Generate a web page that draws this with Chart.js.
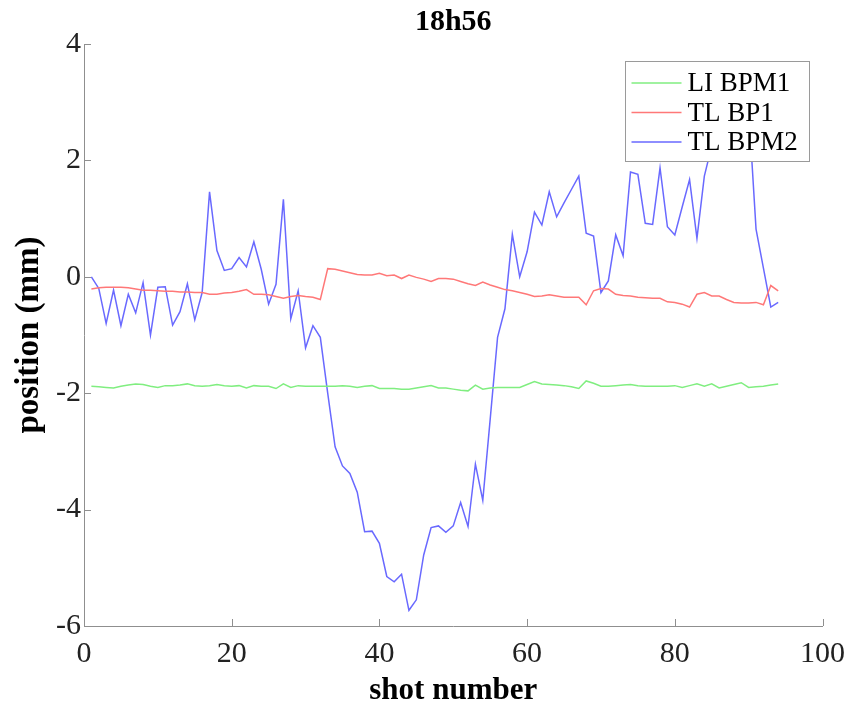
<!DOCTYPE html>
<html>
<head>
<meta charset="utf-8">
<script src="https://cdn.jsdelivr.net/npm/chart.js@4/dist/chart.umd.min.js"></script>
<style>
  html, body { margin: 0; padding: 0; background: #fff; }
  #wrap { width: 855px; height: 707px; }
</style>
</head>
<body>
<div id="wrap"><canvas id="chart" width="855" height="707"></canvas></div>
<script>
const shots = [1,2,3,4,5,6,7,8,9,10,11,12,13,14,15,16,17,18,19,20,21,22,23,24,25,26,27,28,29,30,
  31,32,33,34,35,36,37,38,39,40,41,42,43,44,45,46,47,48,49,50,51,52,53,54,55,56,57,58,59,60,
  61,62,63,64,65,66,67,68,69,70,71,72,73,74,75,76,77,78,79,80,81,82,83,84,85,86,87,88,89,90,
  91,92,93,94];

const liBpm1 = [-1.88,-1.89,-1.90,-1.91,-1.88,-1.86,-1.84,-1.85,-1.88,-1.90,
  -1.87,-1.87,-1.86,-1.84,-1.87,-1.88,-1.87,-1.85,-1.87,-1.88,
  -1.87,-1.91,-1.87,-1.88,-1.88,-1.92,-1.84,-1.90,-1.87,-1.88,
  -1.88,-1.88,-1.88,-1.88,-1.87,-1.88,-1.90,-1.88,-1.87,-1.92,
  -1.92,-1.92,-1.93,-1.93,-1.91,-1.89,-1.87,-1.91,-1.91,-1.93,
  -1.95,-1.96,-1.86,-1.93,-1.91,-1.90,-1.90,-1.90,-1.90,-1.85,
  -1.80,-1.84,-1.85,-1.86,-1.87,-1.89,-1.92,-1.79,-1.83,-1.88,
  -1.88,-1.87,-1.86,-1.85,-1.87,-1.88,-1.88,-1.88,-1.88,-1.87,
  -1.90,-1.87,-1.84,-1.88,-1.84,-1.91,-1.88,-1.85,-1.82,-1.90,
  -1.89,-1.88,-1.86,-1.84];

const tlBp1 = [-0.21,-0.19,-0.18,-0.18,-0.18,-0.19,-0.21,-0.23,-0.23,-0.24,
  -0.25,-0.25,-0.26,-0.26,-0.27,-0.27,-0.30,-0.30,-0.28,-0.27,
  -0.25,-0.22,-0.30,-0.30,-0.31,-0.34,-0.37,-0.34,-0.32,-0.34,
  -0.35,-0.39,0.14,0.13,0.10,0.07,0.04,0.03,0.03,0.06,
  0.02,0.03,-0.03,0.03,-0.01,-0.04,-0.08,-0.03,-0.03,-0.04,
  -0.08,-0.12,-0.15,-0.09,-0.14,-0.18,-0.22,-0.24,-0.27,-0.30,
  -0.34,-0.33,-0.31,-0.33,-0.35,-0.35,-0.35,-0.48,-0.24,-0.20,
  -0.21,-0.30,-0.32,-0.33,-0.35,-0.36,-0.37,-0.37,-0.43,-0.44,
  -0.47,-0.52,-0.30,-0.27,-0.33,-0.33,-0.39,-0.44,-0.45,-0.45,
  -0.44,-0.48,-0.15,-0.24];

const tlBpm2 = [0.00,-0.20,-0.80,-0.23,-0.84,-0.30,-0.62,-0.10,-1.00,-0.18,
  -0.17,-0.83,-0.60,-0.12,-0.74,-0.27,1.46,0.45,0.11,0.14,
  0.33,0.17,0.60,0.13,-0.47,-0.13,1.33,-0.72,-0.24,-1.22,
  -0.84,-1.04,-2.00,-2.92,-3.25,-3.38,-3.70,-4.38,-4.37,-4.58,
  -5.15,-5.24,-5.11,-5.73,-5.55,-4.78,-4.31,-4.28,-4.39,-4.28,
  -3.88,-4.29,-3.22,-3.84,-2.45,-1.04,-0.55,0.73,0.00,0.43,
  1.11,0.89,1.46,1.03,1.27,1.50,1.73,0.75,0.70,-0.27,
  -0.07,0.72,0.36,1.80,1.76,0.92,0.90,1.87,0.86,0.72,
  1.20,1.67,0.66,1.73,2.25,2.60,2.40,2.80,2.50,2.90,
  0.82,0.15,-0.52,-0.44];

const xTickValues = [0, 20, 40, 60, 80, 100];
const yTickValues = [-6, -4, -2, 0, 2, 4];
const chartTitle = '18h56';

const SERIF = "'Liberation Serif', 'Times New Roman', serif";
const AXIS = '#8f8f8f';

const pts = ys => shots.map((x, i) => ({ x, y: ys[i] }));

// MATLAB style ticks pointing into the plot
const innerTicks = {
  id: 'innerTicks',
  afterDatasetsDraw(chart) {
    const { ctx, chartArea: a, scales: { x, y } } = chart;
    ctx.save();
    ctx.strokeStyle = AXIS;
    ctx.lineWidth = 1;
    ctx.beginPath();
    xTickValues.forEach(v => {
      const px = Math.round(x.getPixelForValue(v)) + 0.5;
      ctx.moveTo(px, a.bottom); ctx.lineTo(px, a.bottom - 7);
    });
    yTickValues.forEach(v => {
      const py = Math.round(y.getPixelForValue(v)) + 0.5;
      ctx.moveTo(a.left, py); ctx.lineTo(a.left + 7, py);
    });
    ctx.stroke();
    ctx.restore();
  }
};

// legend box inside the axes, drawn over the lines
const boxLegend = {
  id: 'boxLegend',
  afterDatasetsDraw(chart) {
    const { ctx, chartArea: a } = chart;
    const w = 184, h = 100;
    const bx = a.right - 14 - w, by = a.top + 17;
    ctx.save();
    ctx.fillStyle = '#fff';
    ctx.fillRect(bx, by, w, h);
    ctx.strokeStyle = '#9a9a9a';
    ctx.lineWidth = 1;
    ctx.strokeRect(Math.round(bx) + 0.5, Math.round(by) + 0.5, w, h);
    ctx.font = '27px ' + SERIF;
    ctx.textBaseline = 'middle';
    ctx.fillStyle = '#000';
    chart.data.datasets.forEach((ds, i) => {
      const cy = by + 22 + i * 29.5;
      ctx.strokeStyle = ds.borderColor;
      ctx.lineWidth = 1.5;
      ctx.beginPath();
      ctx.moveTo(bx + 7, cy); ctx.lineTo(bx + 57, cy);
      ctx.stroke();
      ctx.fillText(ds.label, bx + 63, cy + 1);
    });
    ctx.restore();
  }
};

// title centred over the axes, like MATLAB
const axesTitle = {
  id: 'axesTitle',
  afterDraw(chart) {
    const { ctx, chartArea: a } = chart;
    ctx.save();
    ctx.font = 'bold 30px ' + SERIF;
    ctx.fillStyle = '#000';
    ctx.textAlign = 'center';
    ctx.textBaseline = 'middle';
    ctx.fillText(chartTitle, (a.left + a.right) / 2, 22);
    ctx.restore();
  }
};

new Chart(document.getElementById('chart'), {
  type: 'line',
  data: {
    datasets: [
      { label: 'LI BPM1', data: pts(liBpm1), borderColor: 'rgb(128,238,128)' },
      { label: 'TL BP1', data: pts(tlBp1), borderColor: 'rgb(255,120,120)' },
      { label: 'TL BPM2', data: pts(tlBpm2), borderColor: 'rgb(105,105,255)' }
    ]
  },
  options: {
    responsive: false,
    animation: false,
    layout: { padding: { left: 0, right: 32, top: 44, bottom: 0 } },
    elements: {
      point: { radius: 0 },
      line: { borderWidth: 1.5, tension: 0 }
    },
    plugins: {
      legend: { display: false },
      tooltip: { enabled: false },
      title: { display: false }
    },
    scales: {
      x: {
        type: 'linear', min: 0, max: 100,
        afterBuildTicks: s => { s.ticks = xTickValues.map(v => ({ value: v })); },
        afterFit: s => { s.height = 81; },
        grid: { display: false, drawTicks: false },
        border: { display: true, color: AXIS, width: 1 },
        ticks: { color: '#222', padding: 10, maxRotation: 0, font: { family: SERIF, size: 30 } },
        title: {
          display: true, text: 'shot number', color: '#000',
          font: { family: SERIF, size: 31, weight: 'bold', lineHeight: 1 },
          padding: { top: 0, bottom: 1 }
        }
      },
      y: {
        type: 'linear', min: -6, max: 4,
        afterBuildTicks: s => { s.ticks = yTickValues.map(v => ({ value: v })); },
        afterFit: s => { s.width = 84; },
        grid: { display: false, drawTicks: false },
        border: { display: true, color: AXIS, width: 1 },
        ticks: { color: '#222', padding: 3, font: { family: SERIF, size: 30 } },
        title: {
          display: true, text: 'position (mm)', color: '#000',
          font: { family: SERIF, size: 33, weight: 'bold', lineHeight: 1 },
          padding: { top: 13, bottom: 0 }
        }
      }
    }
  },
  plugins: [innerTicks, boxLegend, axesTitle]
});
</script>
</body>
</html>
